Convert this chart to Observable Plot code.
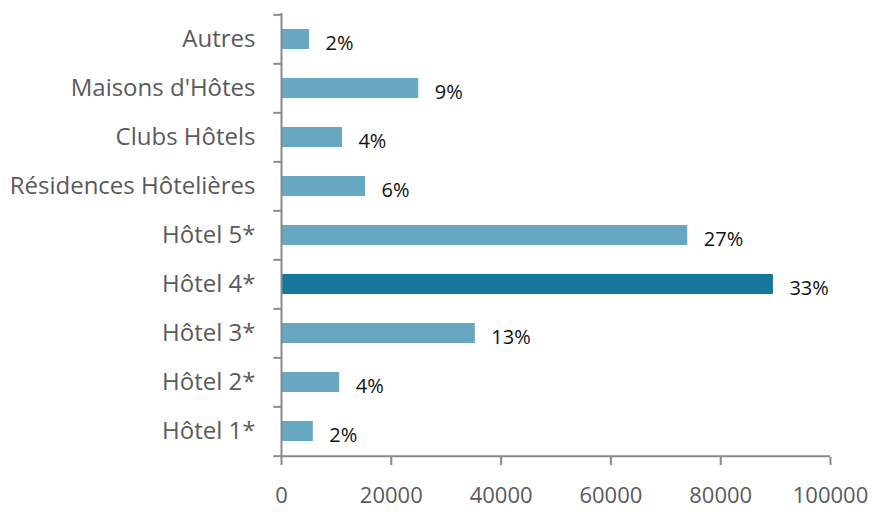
<!DOCTYPE html>
<html>
<head>
<meta charset="utf-8">
<script src="https://cdn.jsdelivr.net/npm/d3@7"></script>
<script src="https://cdn.jsdelivr.net/npm/@observablehq/plot@0.6"></script>
<style>
  html, body { margin: 0; padding: 0; background: #ffffff; }
  #chart svg { display: block; }
</style>
</head>
<body>
<div id="chart"></div>
<script>
const categories = ["Autres", "Maisons d'Hôtes", "Clubs Hôtels", "Résidences Hôtelières", "Hôtel 5*", "Hôtel 4*", "Hôtel 3*", "Hôtel 2*", "Hôtel 1*"];
const values = [5100, 25000, 11100, 15300, 74000, 89600, 35300, 10600, 5800];
const percentLabels = ["2%", "9%", "4%", "6%", "27%", "33%", "13%", "4%", "2%"];
const highlighted = ["Hôtel 4*"];
const xTicks = [0, 20000, 40000, 60000, 80000, 100000];

const data = categories.map((c, i) => ({category: c, value: values[i], label: percentLabels[i]}));

const W = 874, H = 519;
const mTop = 13, mBottom = 62, mLeft = 281, mRight = 44;
const step = (H - mTop - mBottom) / categories.length;
const font = "'Open Sans', sans-serif";
const axisColor = "#8a8a8a";

const chart = Plot.plot({
  width: W,
  height: H,
  marginTop: mTop,
  marginBottom: mBottom,
  marginLeft: mLeft,
  marginRight: mRight,
  style: {fontFamily: font, background: "transparent", overflow: "visible"},
  x: {domain: [0, 100000]},
  y: {domain: categories, paddingInner: 0.6, paddingOuter: 0.3},
  marks: [
    Plot.barX(data, {
      x: "value", y: "category",
      fill: d => highlighted.includes(d.category) ? "#16769b" : "#68a7c1"
    }),
    Plot.text(data, {
      x: "value", y: "category", text: "label",
      textAnchor: "start", dx: 16, dy: 4,
      fontSize: 20, fill: "#111"
    }),
    Plot.ruleX([0], {stroke: axisColor, strokeWidth: 2}),
    Plot.ruleY([categories[categories.length - 1]], {stroke: axisColor, strokeWidth: 2, dy: step / 2}),
    Plot.ruleY(categories, {x1: -1400, x2: 0, stroke: axisColor, strokeWidth: 2, dy: -step / 2}),
    Plot.ruleY([categories[categories.length - 1]], {x1: -1400, x2: 0, stroke: axisColor, strokeWidth: 2, dy: step / 2}),
    Plot.axisY({tickSize: 0, tickPadding: 26, fontSize: 24, color: "#5a5a5a", label: null}),
    Plot.axisX({ticks: xTicks, tickSize: 8, tickPadding: 22, tickFormat: d3.format("d"),
      fontSize: 22, color: "#5a5a5a", stroke: axisColor, strokeWidth: 2, label: null})
  ]
});
document.getElementById("chart").appendChild(chart);
</script>
</body>
</html>
